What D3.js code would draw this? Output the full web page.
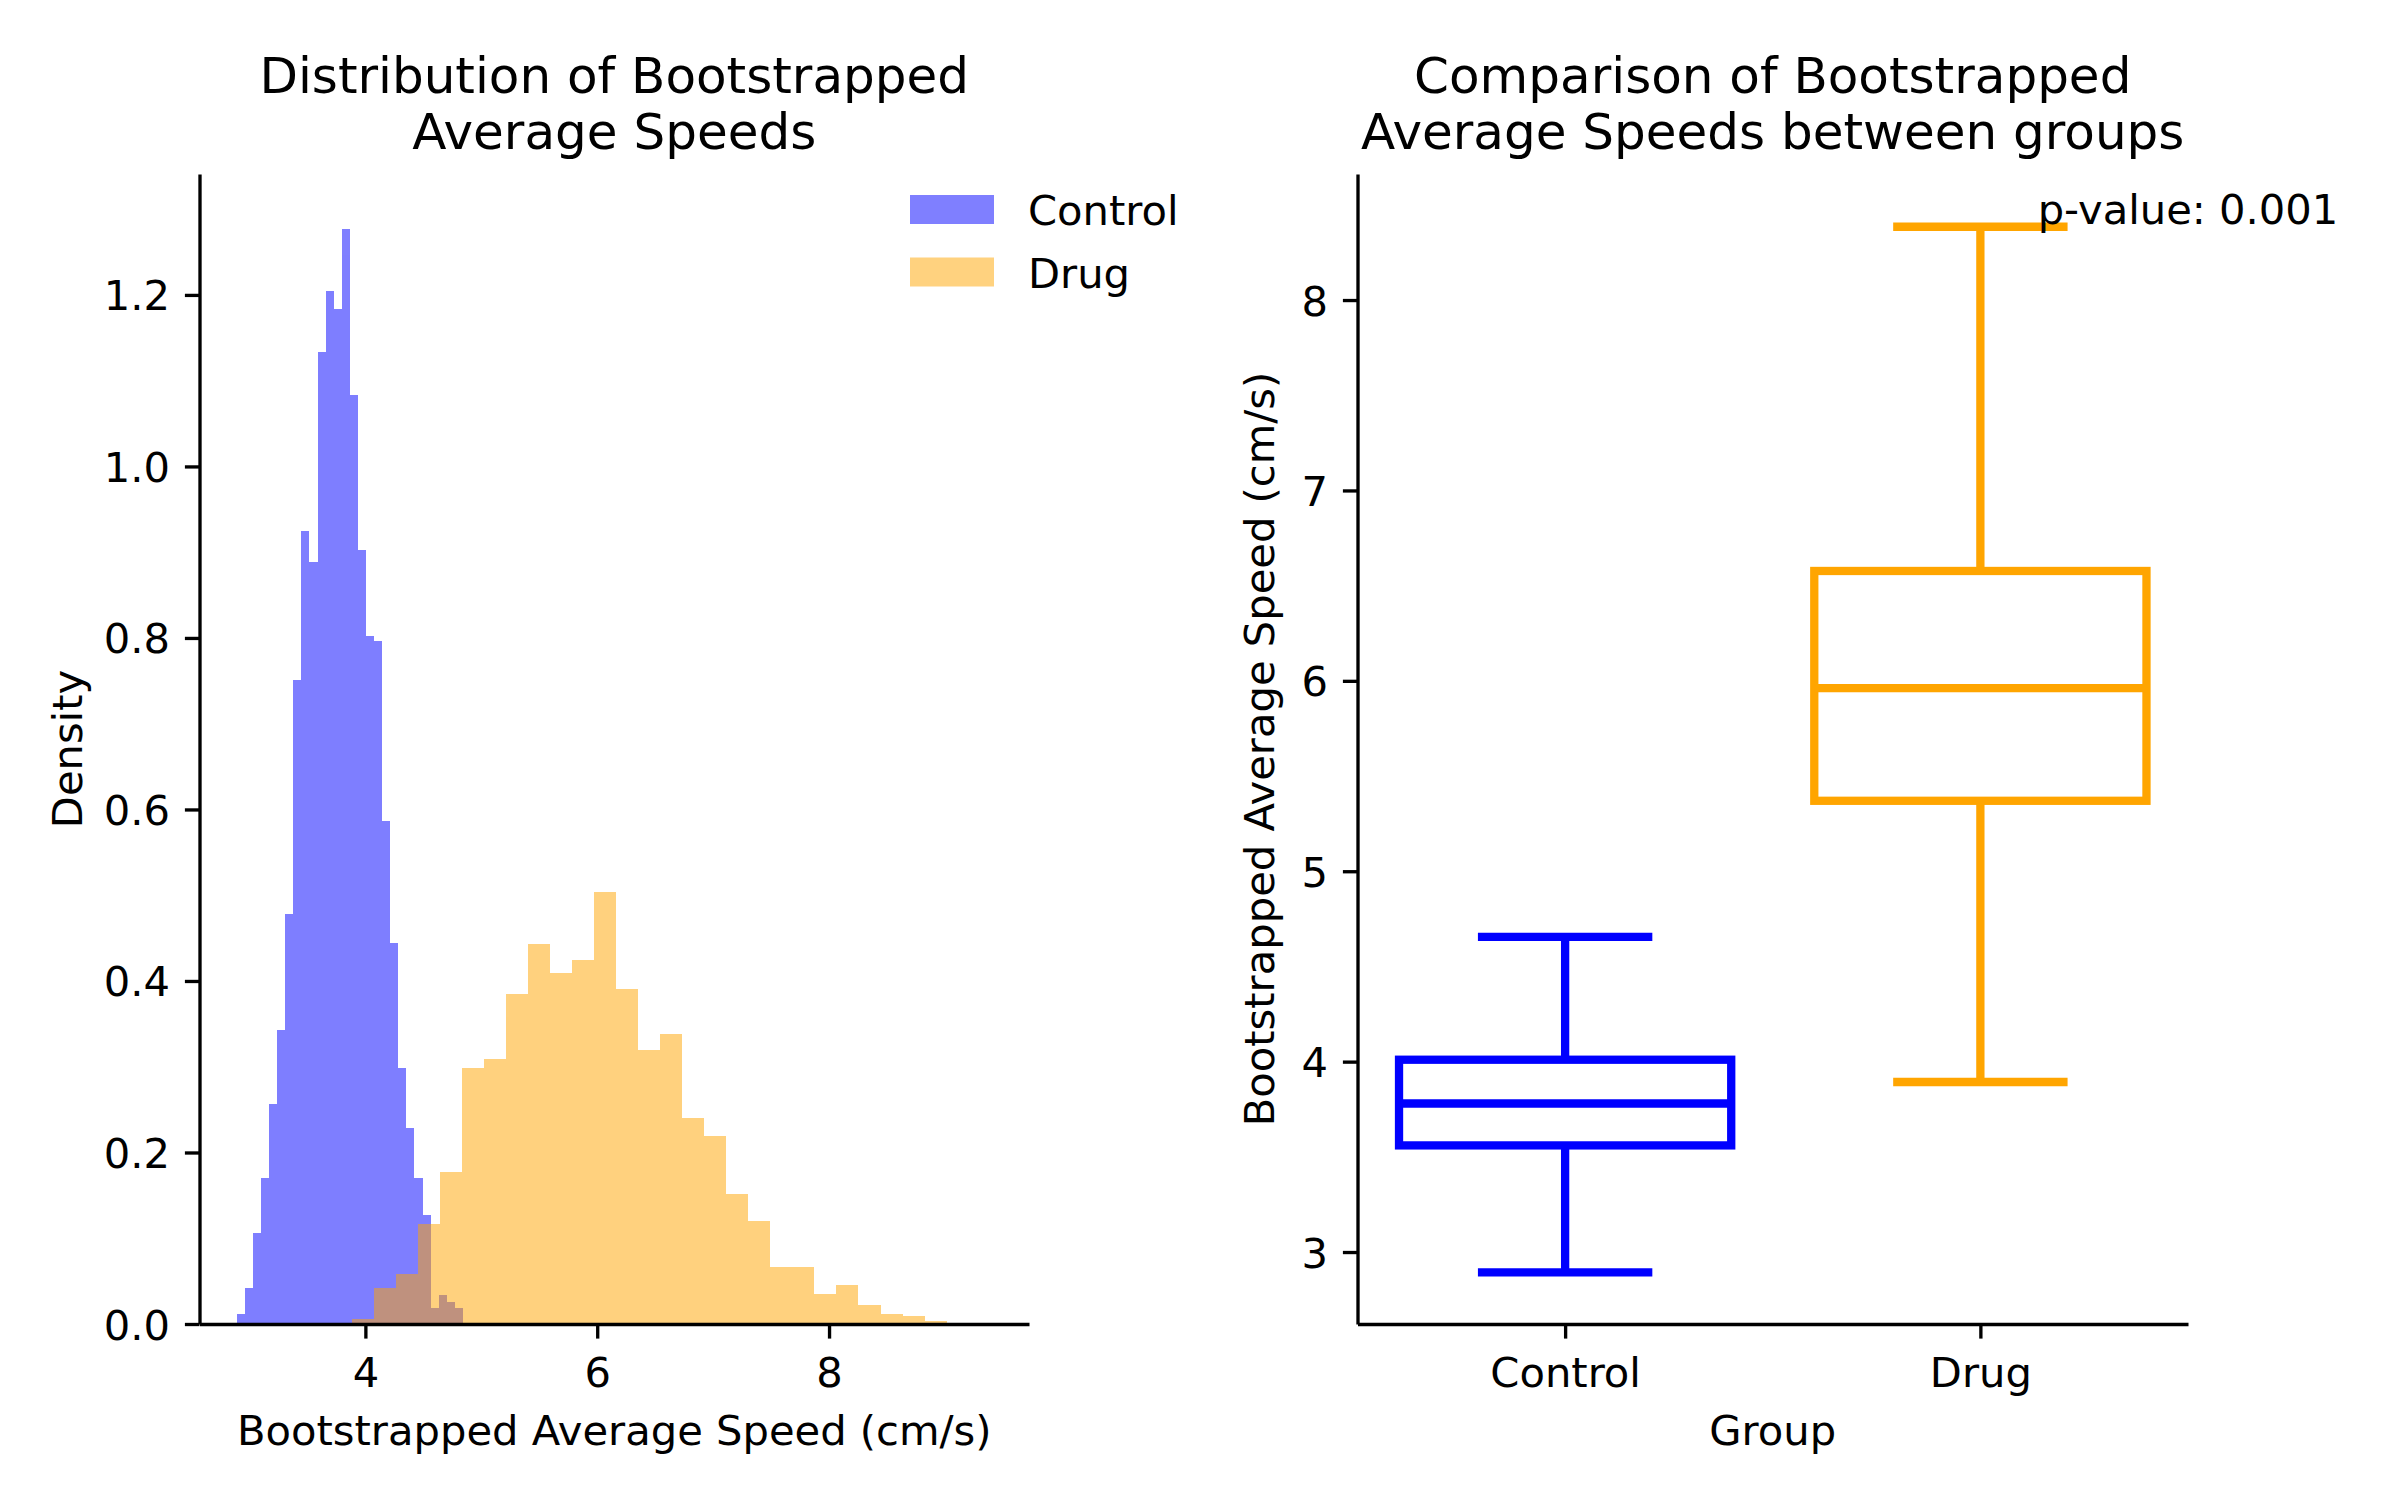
<!DOCTYPE html>
<html><head><meta charset="utf-8">
<script src="https://cdn.jsdelivr.net/npm/d3@7"></script>
<style>
body{margin:0;background:#fff}
text{font-family:"DejaVu Sans",sans-serif;fill:#000}
</style>
</head><body>
<svg id="c" width="2400" height="1500" xmlns="http://www.w3.org/2000/svg"></svg>
<script>
// ---------------- data ----------------
const groups = ["Control", "Drug"];
const groupColors = ["blue", "orange"];

// histogram (density) — bins
const controlBinStart = 2.890, controlBinWidth = 0.0697;
const controlDensity = [0.012,0.042,0.106,0.170,0.256,0.343,0.478,0.751,0.925,0.889,
  1.133,1.204,1.183,1.277,1.083,0.903,0.802,0.796,0.587,0.444,0.299,0.228,0.170,0.127,
  0.019,0.034,0.026,0.019];
const drugBinStart = 3.884, drugBinWidth = 0.19;
const drugDensity = [0.0058,0.0424,0.0583,0.117,0.1776,0.299,0.3094,0.385,0.4435,0.4097,
  0.425,0.504,0.391,0.320,0.3386,0.2406,0.2196,0.1512,0.1197,0.0669,0.0669,0.0354,0.0459,
  0.0216,0.0117,0.0093,0.0035,0.0012,0.0012];

const histXTicks = [4, 6, 8];
const densityTicks = [0, 0.2, 0.4, 0.6, 0.8, 1.0, 1.2];
const speedTicks = [3, 4, 5, 6, 7, 8];

// box plot statistics per group
const whiskerLow  = [2.893, 3.893];
const quartile1   = [3.560, 5.370];
const medians     = [3.780, 5.962];
const quartile3   = [4.010, 6.577];
const whiskerHigh = [4.655, 8.385];
const pValueText = "p-value: 0.001";

// ---------------- layout ----------------
const FS = 41.67, TFS = 50, LW = 3.33, TICK = 14.6;
const plotTop = 174, plotBottom = 1324;
const L = {x0: 199.5, x1: 1029};
const R = {x0: 1357.5, x1: 2188};

const svg = d3.select("#c");

// ============ left: histogram ============
const xh = d3.scaleLinear().domain([2.569, 9.725]).range([L.x0, L.x1]);
const yh = d3.scaleLinear().domain([0, 1.341]).range([plotBottom, plotTop]);

function bins(start, width, dens){
  return dens.map((d,i)=>({x0:start+i*width, x1:start+(i+1)*width, d}));
}
const hists = [bins(controlBinStart, controlBinWidth, controlDensity),
               bins(drugBinStart, drugBinWidth, drugDensity)];

hists.forEach((h,gi)=>{
  svg.append("g").attr("opacity",0.5)
    .selectAll("rect").data(h).join("rect")
    .attr("x", d=>xh(d.x0)).attr("width", d=>xh(d.x1)-xh(d.x0))
    .attr("y", d=>yh(d.d)).attr("height", d=>yh(0)-yh(d.d))
    .attr("fill", groupColors[gi]).attr("shape-rendering","crispEdges");
});

function styleAxis(g){
  g.select(".domain").attr("stroke","#000").attr("stroke-width",LW);
  g.selectAll(".tick line").attr("stroke","#000").attr("stroke-width",LW);
  g.selectAll(".tick text").attr("font-size",FS).attr("fill","#000")
    .attr("font-family","DejaVu Sans");
}

const gxL = svg.append("g").attr("transform",`translate(0,${plotBottom})`)
  .call(d3.axisBottom(xh).tickValues(histXTicks).tickFormat(d3.format("d"))
        .tickSize(TICK).tickSizeOuter(0).tickPadding(18.5));
styleAxis(gxL);
const gyL = svg.append("g").attr("transform",`translate(${L.x0},0)`)
  .call(d3.axisLeft(yh).tickValues(densityTicks).tickFormat(d3.format(".1f"))
        .tickSize(TICK).tickSizeOuter(0).tickPadding(15));
styleAxis(gyL);
gyL.selectAll(".tick text").attr("dy","0.36em");

// titles / labels
function title(cx, lines){
  lines.forEach((t,i)=>svg.append("text").attr("x",cx).attr("y",93+i*55.5)
    .attr("text-anchor","middle").attr("font-size",TFS).text(t));
}
title((L.x0+L.x1)/2, ["Distribution of Bootstrapped","Average Speeds"]);
svg.append("text").attr("x",(L.x0+L.x1)/2).attr("y",1445).attr("text-anchor","middle")
  .attr("font-size",FS).text("Bootstrapped Average Speed (cm/s)");
svg.append("text").attr("transform",`translate(81.5,${(plotTop+plotBottom)/2}) rotate(-90)`)
  .attr("text-anchor","middle").attr("font-size",FS).text("Density");

// legend
groups.forEach((g,i)=>{
  svg.append("rect").attr("x",910).attr("y",195+i*62.5).attr("width",84).attr("height",29)
    .attr("fill",groupColors[i]).attr("opacity",0.5);
  svg.append("text").attr("x",1028).attr("y",225+i*62.5).attr("font-size",FS).text(g);
});

// ============ right: box plot ============
const xb = d3.scalePoint().domain(groups).range([R.x0, R.x1]).padding(0.5);
const yb = d3.scaleLinear().domain([2.622, 8.662]).range([plotBottom, plotTop]);
const step = xb.step();
const boxW = 0.8*step, capW = 0.42*step, BLW = 8.3;

groups.forEach((g,i)=>{
  const cx = xb(g), col = groupColors[i];
  const gg = svg.append("g").attr("stroke",col).attr("stroke-width",BLW).attr("fill","none");
  gg.append("line").attr("x1",cx).attr("x2",cx).attr("y1",yb(quartile1[i])).attr("y2",yb(whiskerLow[i]));
  gg.append("line").attr("x1",cx).attr("x2",cx).attr("y1",yb(quartile3[i])).attr("y2",yb(whiskerHigh[i]));
  [whiskerLow[i], whiskerHigh[i]].forEach(v=>{
    gg.append("line").attr("x1",cx-capW/2).attr("x2",cx+capW/2).attr("y1",yb(v)).attr("y2",yb(v));
  });
  gg.append("rect").attr("x",cx-boxW/2).attr("width",boxW)
    .attr("y",yb(quartile3[i])).attr("height",yb(quartile1[i])-yb(quartile3[i]))
    .attr("stroke-linejoin","miter");
  gg.append("line").attr("x1",cx-boxW/2).attr("x2",cx+boxW/2)
    .attr("y1",yb(medians[i])).attr("y2",yb(medians[i]));
});

const gxR = svg.append("g").attr("transform",`translate(0,${plotBottom})`)
  .call(d3.axisBottom(xb).tickSize(TICK).tickSizeOuter(0).tickPadding(18.5));
styleAxis(gxR);
const gyR = svg.append("g").attr("transform",`translate(${R.x0},0)`)
  .call(d3.axisLeft(yb).tickValues(speedTicks).tickFormat(d3.format("d"))
        .tickSize(TICK).tickSizeOuter(0).tickPadding(15));
styleAxis(gyR);
gyR.selectAll(".tick text").attr("dy","0.36em");

title((R.x0+R.x1)/2, ["Comparison of Bootstrapped","Average Speeds between groups"]);
svg.append("text").attr("x",(R.x0+R.x1)/2).attr("y",1445).attr("text-anchor","middle")
  .attr("font-size",FS).text("Group");
svg.append("text").attr("transform",`translate(1273.5,${(plotTop+plotBottom)/2}) rotate(-90)`)
  .attr("text-anchor","middle").attr("font-size",FS).text("Bootstrapped Average Speed (cm/s)");

svg.append("text").attr("x",R.x1).attr("y",yb(whiskerHigh[1])-3)
  .attr("text-anchor","middle").attr("font-size",FS).text(pValueText);
</script>
</body></html>
